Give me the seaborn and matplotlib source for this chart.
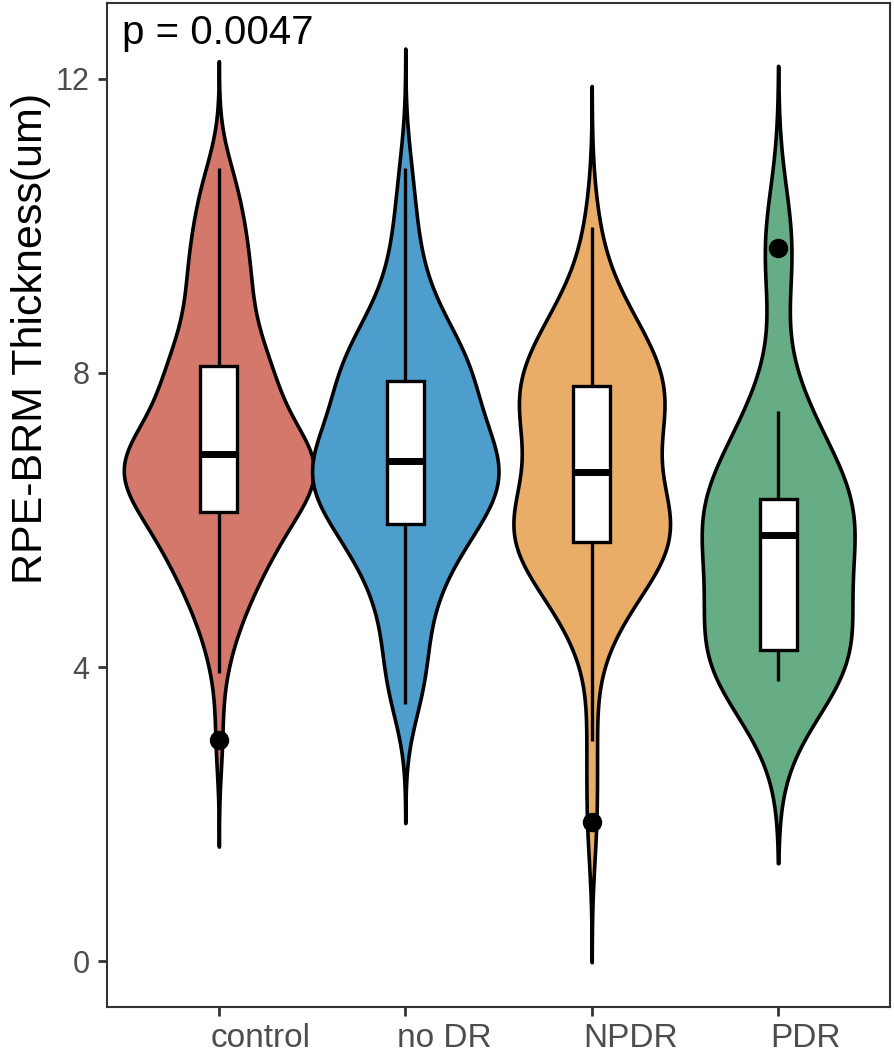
import numpy as np
import pandas as pd
import matplotlib
matplotlib.use("Agg")
import matplotlib.pyplot as plt
import matplotlib.transforms as mtransforms
import seaborn as sns

# ---------------- data ----------------
categories = ["control", "no DR", "NPDR", "PDR"]

control = [3.01, 3.92, 4.28, 4.52, 4.66, 4.80, 4.91, 5.02, 5.11, 5.20, 5.28, 5.35, 5.42,
           5.49, 5.55, 5.61, 5.67, 5.72, 5.78, 5.83, 5.88, 5.93, 5.98, 6.03, 6.08, 6.12,
           6.16, 6.20, 6.24, 6.28, 6.32, 6.36, 6.40, 6.43, 6.46, 6.49, 6.52, 6.55, 6.58,
           6.61, 6.64, 6.67, 6.70, 6.73, 6.76, 6.79, 6.81, 6.83, 6.85, 6.88, 6.92, 6.94,
           6.97, 7.00, 7.04, 7.08, 7.12, 7.16, 7.21, 7.26, 7.31, 7.36, 7.42, 7.48, 7.54,
           7.60, 7.66, 7.72, 7.78, 7.84, 7.90, 7.95, 8.00, 8.04, 8.07, 8.15, 8.22, 8.29,
           8.37, 8.45, 8.54, 8.63, 8.73, 8.84, 8.95, 9.06, 9.16, 9.26, 9.36, 9.46, 9.56,
           9.67, 9.78, 9.90, 10.03, 10.17, 10.32, 10.48, 10.63, 10.79]

no_dr = [3.50, 3.62, 3.80, 3.95, 4.15, 4.35, 4.55, 4.72, 4.88, 5.02, 5.14, 5.25, 5.35,
         5.44, 5.53, 5.61, 5.68, 5.75, 5.81, 5.87, 5.92, 5.96, 6.02, 6.07, 6.12, 6.17,
         6.22, 6.27, 6.32, 6.36, 6.40, 6.44, 6.48, 6.52, 6.55, 6.58, 6.61, 6.64, 6.67,
         6.70, 6.74, 6.78, 6.82, 6.85, 6.89, 6.93, 6.97, 7.02, 7.07, 7.12, 7.17, 7.23,
         7.29, 7.35, 7.41, 7.47, 7.53, 7.59, 7.65, 7.71, 7.77, 7.83, 7.88, 7.94, 7.99,
         8.04, 8.09, 8.14, 8.19, 8.25, 8.31, 8.38, 8.45, 8.53, 8.62, 8.72, 8.84, 8.98,
         9.15, 9.36, 9.62, 9.93, 10.30, 10.79]

npdr = [1.90, 2.99, 4.30, 4.62, 4.82, 4.97, 5.09, 5.20, 5.30, 5.39, 5.47, 5.54, 5.60,
        5.65, 5.72, 5.77, 5.82, 5.87, 5.92, 5.97, 6.02, 6.08, 6.14, 6.21, 6.29, 6.38,
        6.47, 6.56, 6.74, 6.90, 7.02, 7.12, 7.21, 7.29, 7.36, 7.43, 7.49, 7.55, 7.61,
        7.67, 7.74, 7.80, 7.88, 7.95, 8.03, 8.11, 8.19, 8.28, 8.37, 8.47, 8.58, 8.70,
        8.83, 8.98, 9.30, 9.99]

pdr = [3.81, 3.95, 4.10, 4.23, 4.70, 5.25, 5.80, 5.98, 6.14, 6.29, 6.85, 7.48, 9.70]

groups = [control, no_dr, npdr, pdr]
colors = ["#D4786C", "#4E9ECD", "#EAAD68", "#66AC84"]
# kernel bandwidths (data units) and violin widths
bandwidths = [0.483, 0.54, 0.637, 0.825]
vwidths = [1.02, 1.0, 0.84, 0.82]
yticks = [0, 4, 8, 12]
p_label = "p = 0.0047"
ylabel = "RPE-BRM Thickness(um)"

# ---------------- style ----------------
sns.set_style("white")
plt.rcParams["font.family"] = ["Liberation Sans", "DejaVu Sans"]

W, H = 894, 1054
fig = plt.figure(figsize=(W / 100, H / 100), dpi=100)
ax = fig.add_axes([107 / W, 1 - 1007 / H, 783 / W, 1004 / H])

df = pd.DataFrame({
    "group": np.concatenate([[c] * len(g) for c, g in zip(categories, groups)]),
    "value": np.concatenate([np.asarray(g, float) for g in groups]),
})

for cat, vals, col, bw, w in zip(categories, groups, colors, bandwidths, vwidths):
    sub = df[df["group"] == cat]
    factor = bw / np.std(np.asarray(vals, float), ddof=1)
    sns.violinplot(data=sub, x="group", y="value", order=categories, color=col,
                   saturation=1, bw_method=factor, cut=3, gridsize=300,
                   width=w, density_norm="width", inner=None,
                   linecolor="black", linewidth=2.6, ax=ax)

sns.boxplot(data=df, x="group", y="value", order=categories, color="white",
            saturation=1, width=0.2, linecolor="black", linewidth=2.4,
            showcaps=False, whis=1.5,
            medianprops=dict(linewidth=5.0, color="black"),
            flierprops=dict(marker="o", markerfacecolor="black",
                            markeredgecolor="black", markersize=13),
            ax=ax)

ax.set_xlim(-0.6, 3.6)
ax.set_ylim(-0.62, 13.03)
ax.set_yticks(yticks)
ax.set_yticklabels([str(t) for t in yticks])
ax.set_xlabel("")
ax.set_ylabel(ylabel, fontsize=31, color="black")
ax.yaxis.set_label_coords(-0.072, 0.666)

for s in ax.spines.values():
    s.set_visible(True)
    s.set_color("#333333")
    s.set_linewidth(1.5)

ax.tick_params(axis="both", which="major", length=6.5, width=2.0, color="#333333",
               labelcolor="#4D4D4D", left=True, bottom=True)
ax.tick_params(axis="y", pad=6, labelsize=22)
ax.tick_params(axis="x", pad=5, labelsize=24)

offset = mtransforms.ScaledTranslation(-8 / 100, 0, fig.dpi_scale_trans)
for lab in ax.get_xticklabels():
    lab.set_horizontalalignment("left")
    lab.set_transform(lab.get_transform() + offset)

ax.text(-0.52, 12.47, p_label, fontsize=29, color="black", ha="left", va="baseline")

fig.savefig("out.png", dpi=100)
